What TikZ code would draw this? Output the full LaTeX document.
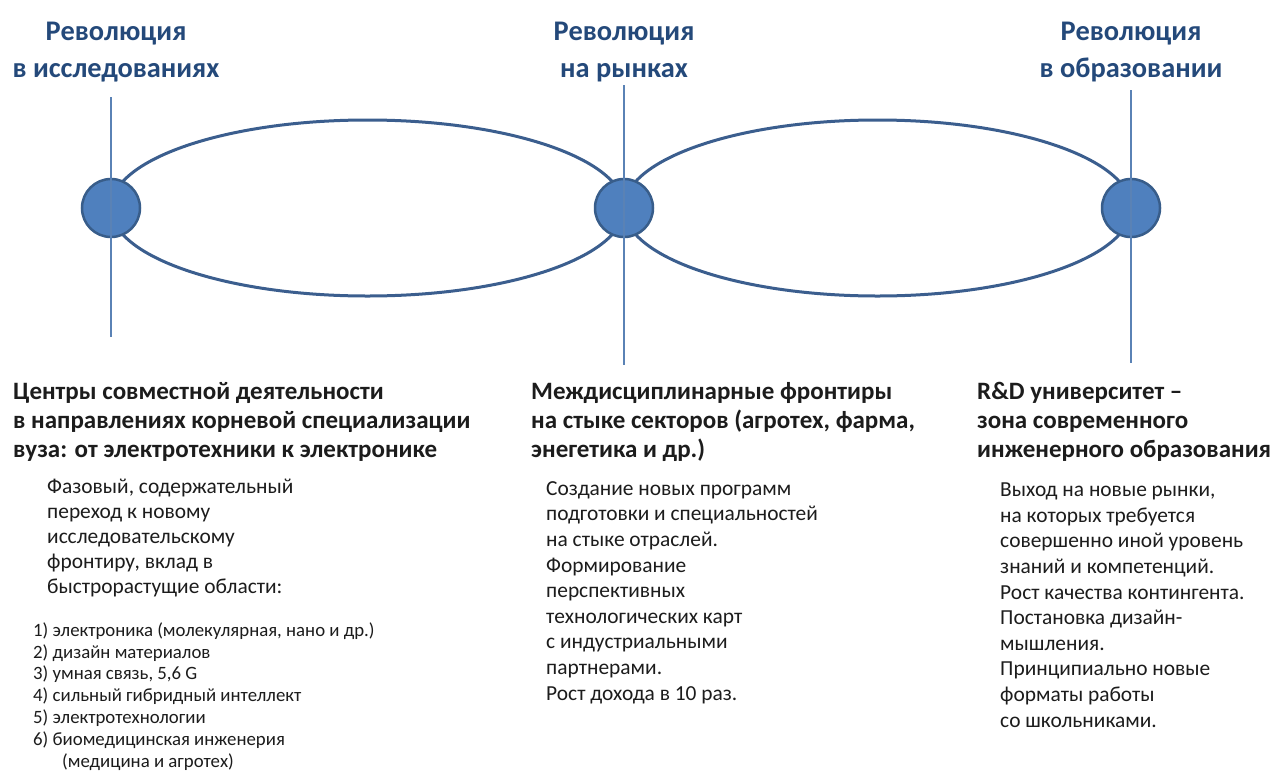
\documentclass[tikz,border=0pt]{standalone}
\usepackage{fontspec}
\setmainfont{Carlito}
\usetikzlibrary{shapes.geometric}
\definecolor{titleblue}{HTML}{24497A}
\definecolor{ringblue}{HTML}{3B5E8E}
\definecolor{dotfill}{HTML}{4F80BE}
\definecolor{dotedge}{HTML}{385D8A}
\definecolor{stemblue}{HTML}{5A82B5}
\definecolor{ink}{HTML}{1C1C1C}
\tikzset{
  ring/.style={ellipse, draw=ringblue, line width=3pt, inner sep=0pt, fill=none},
  dot/.style={circle, draw=dotedge, line width=2.5pt, fill=dotfill, minimum size=58pt, inner sep=0pt},
  stem/.style={draw=stemblue, line width=1.3pt},
  title/.style={text=titleblue, font=\fontsize{28.4}{37}\selectfont\bfseries, align=center, inner sep=0pt, anchor=base},
  head/.style={text=ink, font=\fontsize{25}{29}\selectfont\bfseries, align=left, inner sep=0pt, anchor=base west},
  bodyL/.style={text=ink, font=\fontsize{21.4}{25}\selectfont, align=left, inner sep=0pt, anchor=base west},
  body/.style={text=ink, font=\fontsize{21.4}{25.6}\selectfont, align=left, inner sep=0pt, anchor=base west},
  list/.style={text=ink, font=\fontsize{18.8}{21.8}\selectfont, align=left, inner sep=0pt, anchor=base west}
}
\begin{document}
\begin{tikzpicture}[x=1pt,y=-1pt]
\useasboundingbox (0,0) rectangle (1274,774);
\fill[white] (0,0) rectangle (1274,774);
% rings
\node[ring, minimum width=513pt, minimum height=176pt] (e1) at (367.5,208) {};
\node[ring, minimum width=507pt, minimum height=176pt] (e2) at (877.5,208) {};
% dots
\node[dot] (c1) at (111,208) {};
\node[dot] (c2) at (624,208) {};
\node[dot] (c3) at (1131,208) {};
% stems
\coordinate (t1) at (111,97);  \coordinate (b1) at (111,337);
\coordinate (t2) at (624,85);  \coordinate (b2) at (624,365);
\coordinate (t3) at (1131,90); \coordinate (b3) at (1131,363);
\draw[stem] (t1) -- (b1);
\draw[stem] (t2) -- (b2);
\draw[stem] (t3) -- (b3);
% titles (anchor = baseline of last line)
\node[title] (T1) at (116,77) {Революция\\в исследованиях};
\node[title] (T2) at (624,77) {Революция\\на рынках};
\node[title] (T3) at (1131,77) {Революция\\в образовании};
% headings
\node[head] (H1) at (13,457) {Центры совместной деятельности\\в направлениях корневой специализации\\вуза: от электротехники к электронике};
\node[head] (H2) at (531,457) {Междисциплинарные фронтиры\\на стыке секторов (агротех, фарма,\\энегетика и др.)};
\node[head] (H3) at (977,457) {R\&D университет –\\зона современного\\инженерного образования};
% bodies
\node[bodyL] (B1) at (47,593) {Фазовый, содержательный\\переход к новому\\исследовательскому\\фронтиру, вклад в\\быстрорастущие области:};
\node[list] (L1) at (33,767) {1) электроника (молекулярная, нано и др.)\\2) дизайн материалов\\3) умная связь, 5,6 G\\4) сильный гибридный интеллект\\5) электротехнологии\\6) биомедицинская инженерия\\\hspace*{29pt}(медицина и агротех)};
\node[body] (B2) at (546,700) {Создание новых программ\\подготовки и специальностей\\на стыке отраслей.\\Формирование\\перспективных\\технологических карт\\с индустриальными\\партнерами.\\Рост дохода в 10 раз.};
\node[body] (B3) at (1000,727) {Выход на новые рынки,\\на которых требуется\\совершенно иной уровень\\знаний и компетенций.\\Рост качества контингента.\\Постановка дизайн-\\мышления.\\Принципиально новые\\форматы работы\\со школьниками.};
\end{tikzpicture}
\end{document}
